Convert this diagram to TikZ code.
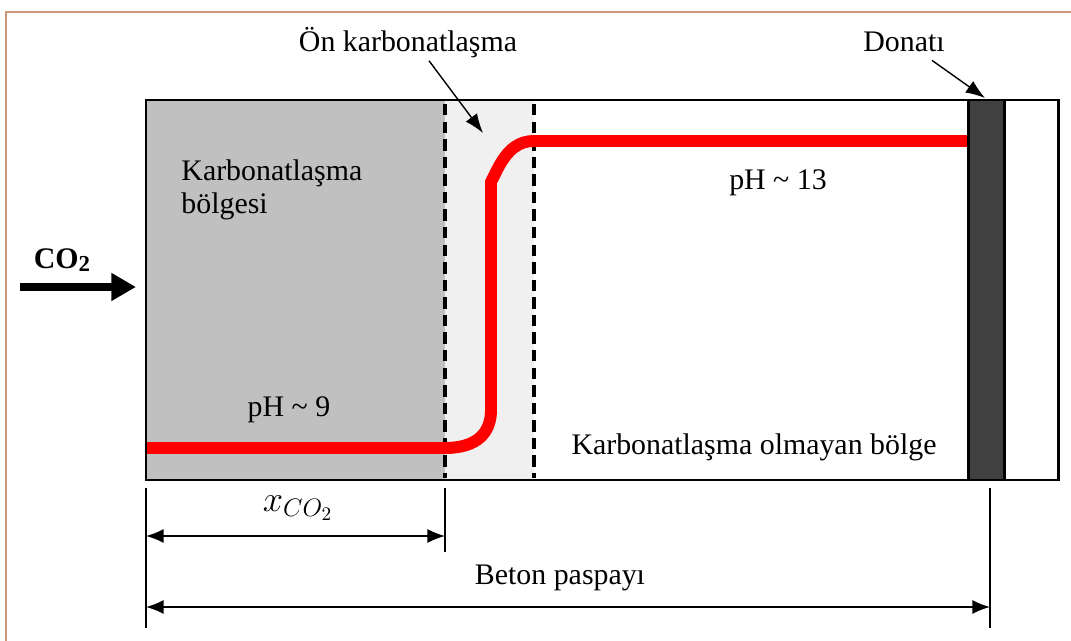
\documentclass[tikz,border=0pt]{standalone}
\usepackage{fontspec}
\setmainfont{Liberation Serif}
\usetikzlibrary{arrows.meta}
\definecolor{frameline}{RGB}{205,150,120}
\definecolor{karbgray}{RGB}{192,192,192}
\definecolor{ongray}{RGB}{240,240,240}
\definecolor{rebargray}{RGB}{64,64,64}
\definecolor{phred}{RGB}{255,0,0}
\tikzset{
  lbl/.style={font=\fontsize{17}{19}\selectfont, inner sep=1.2pt},
  zoneedge/.style={line width=1.9pt, dash pattern=on 6.5pt off 3.5pt},
  phline/.style={phred, line width=6.8pt},
  dimline/.style={line width=0.9pt, {Latex[length=10pt,width=8pt]}-{Latex[length=10pt,width=8pt]}},
  pointer/.style={line width=0.8pt, -{Latex[length=11pt,width=8pt]}},
  extline/.style={line width=0.8pt},
}
\begin{document}
\begin{tikzpicture}[x=0.02cm,y=-0.02cm]
  \useasboundingbox (0,0) rectangle (1071,641);
  \draw[frameline, line width=1pt] (6,641) -- (6,12) -- (1071,12);
  % zones
  \fill[karbgray] (146,100) rectangle (445,480);
  \fill[ongray] (445,100) rectangle (534,480);
  \draw[zoneedge] (445,104) -- (445,478);
  \draw[zoneedge] (534,104) -- (534,478);
  % pH profile
  \draw[phline] (146,448) -- (445,448) .. controls (478,448) and (491,432) .. (491,410)
    -- (491,182) -- (497,170) .. controls (508,148) and (520,141) .. (534,141) -- (968,141);
  % rebar and cover
  \draw[line width=1.7pt, fill=rebargray] (968,100) rectangle (1004,480);
  \draw[line width=1.7pt] (146,100) rectangle (1058,480);
  \coordinate (ontip) at (483,133);
  \coordinate (donatitip) at (985,98);
  % labels
  \node[lbl] (onkarb) at (408,43) {Ön karbonatlaşma};
  \node[lbl] (donati) at (904,42) {Donatı};
  \node[lbl, align=left, anchor=west] (karbzone) at (179,190) {Karbonatlaşma\\bölgesi};
  \node[lbl] (ph13) at (778,183) {pH \textasciitilde{} 13};
  \node[lbl] (ph9) at (289,410) {pH \textasciitilde{} 9};
  \node[lbl] (nonkarb) at (754,447) {Karbonatlaşma olmayan bölge};
  \node[lbl, font=\fontsize{17}{19}\selectfont\bfseries] (co2) at (62,260)
    {CO\raisebox{-1.5pt}{\fontsize{13}{13}\selectfont 2}};
  \draw[pointer] ([xshift=0.42cm]onkarb.south) -- (ontip);
  \draw[pointer] ([xshift=0.56cm,yshift=-0.12cm]donati.south) -- (donatitip);
  % CO2 inflow
  \coordinate (co2start) at (20,287);
  \coordinate (co2end) at (136,287);
  \draw[line width=4.5pt, -{Triangle[length=14pt,width=15pt]}] (co2start) -- (co2end);
  % dimensions
  \coordinate (dimA) at (146,536);
  \coordinate (dimB) at (445,536);
  \coordinate (dimC) at (146,607);
  \coordinate (dimD) at (990,607);
  \draw[extline] (146,488) -- (146,628);
  \draw[extline] (445,488) -- (445,552);
  \draw[extline] (990,488) -- (990,628);
  \draw[dimline] (dimA) -- (dimB);
  \draw[dimline] (dimC) -- (dimD);
  \node[lbl, font=\fontsize{22}{24}\selectfont] (xco2) at (298,508) {$x_{CO_2}$};
  \node[lbl] (beton) at (560,578) {Beton paspayı};
\end{tikzpicture}
\end{document}
